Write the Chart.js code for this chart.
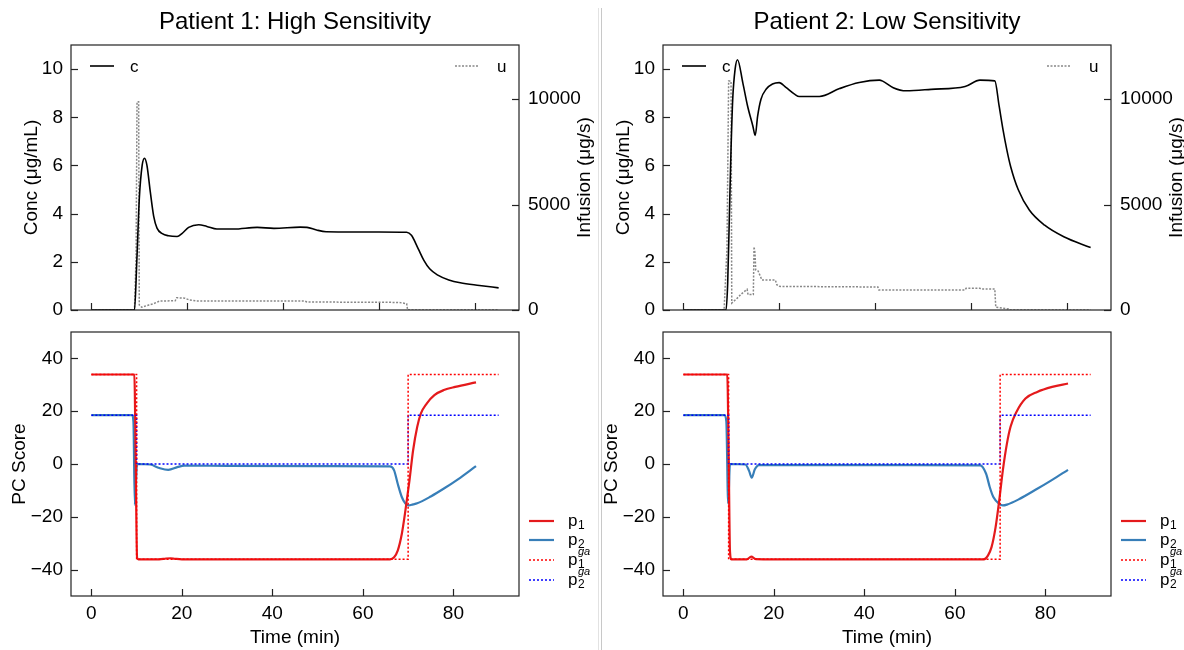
<!DOCTYPE html>
<html>
<head>
<meta charset="utf-8">
<script src="https://cdn.jsdelivr.net/npm/chart.js@4.4.1/dist/chart.umd.min.js"></script>
<style>
  html, body { margin: 0; padding: 0; background: #fff; }
  #wrap { position: relative; width: 1184px; height: 650px; overflow: hidden; }
  canvas { position: absolute; }
  .sep { position: absolute; top: 8px; width: 1px; height: 642px; }
</style>
</head>
<body>
<div id="wrap">
  <canvas id="tl" width="596" height="335" style="left:0;top:0"></canvas>
  <canvas id="tr" width="588" height="335" style="left:596px;top:0"></canvas>
  <canvas id="bl" width="596" height="350" style="left:0;top:300px"></canvas>
  <canvas id="br" width="588" height="350" style="left:596px;top:300px"></canvas>
  <div class="sep" style="left:598px;background:#e2e2e2"></div>
  <div class="sep" style="left:601px;background:#c8c8c8"></div>
</div>
<script>
const FONT = '"Liberation Sans", Arial, Helvetica, sans-serif';
Chart.defaults.font.family = FONT;
Chart.defaults.font.size = 19;
Chart.defaults.color = '#000';

// ---- tick labels
const timeTicks = [0, 20, 40, 60, 80];
const concTicks = [0, 2, 4, 6, 8, 10];
const infTicks = [0, 5000, 10000];
const pcTicks = [-40, -20, 0, 20, 40];

// ---- Patient 1: concentration c (ug/mL) and infusion u (ug/s)
const p1cT = [0, 9.0, 9.5, 10.0, 10.6, 11.1, 11.6, 12.3, 13.0, 13.7, 14.8, 16.1, 17.9, 18.9, 20.3, 22.4, 24.1, 26.2, 29.7, 34.6, 38.1, 43.6, 45.0, 47.0, 49.0, 55.0, 60.0, 65.8, 66.8, 68.2, 69.4, 70.6, 72.2, 74.6, 77.0, 81.0, 85.0];
const p1c  = [0, 0, 2.1, 4.6, 6.0, 6.3, 6.0, 4.9, 3.9, 3.4, 3.17, 3.08, 3.05, 3.17, 3.43, 3.54, 3.47, 3.36, 3.36, 3.43, 3.39, 3.44, 3.43, 3.32, 3.25, 3.24, 3.24, 3.23, 3.1, 2.55, 2.06, 1.71, 1.46, 1.25, 1.13, 1.02, 0.92];
const p1uT = [0, 9.0, 9.33, 9.53, 9.87, 10.0, 10.5, 12.0, 13.0, 14.2, 17.5, 17.8, 19.5, 20.5, 22.0, 44.5, 45.0, 64.0, 65.0, 65.8, 66.0, 85.0];
const p1u  = [0, 0, 2530, 9870, 9870, 240, 130, 240, 300, 420, 440, 580, 560, 470, 430, 430, 380, 360, 330, 300, 0, 0];

// ---- Patient 2: concentration c and infusion u
const p2cT = [0, 8.9, 9.25, 9.6, 9.95, 10.3, 10.8, 11.3, 12.4, 13.4, 14.5, 15.0, 15.5, 16.2, 17.3, 18.6, 20.0, 21.4, 23.2, 24.2, 28.4, 32.6, 36.7, 40.9, 41.6, 43.8, 46.5, 51.7, 58.8, 61.9, 65.0, 65.9, 66.7, 67.5, 68.3, 69.9, 72.2, 75.4, 79.4, 85.0];
const p2c  = [0, 0, 1.11, 3.89, 6.67, 8.75, 10.0, 10.39, 9.44, 8.47, 7.64, 7.25, 8.05, 8.75, 9.17, 9.38, 9.44, 9.24, 8.96, 8.86, 8.86, 9.19, 9.44, 9.54, 9.5, 9.23, 9.1, 9.16, 9.28, 9.54, 9.51, 8.47, 7.5, 6.66, 5.96, 4.99, 4.15, 3.52, 3.04, 2.59];
const p2uT = [0, 8.5, 9.1, 9.45, 9.95, 10.1, 10.5, 11.2, 12.1, 13.3, 13.5, 14.6, 14.75, 14.95, 15.1, 15.6, 16.4, 19.2, 19.5, 20.0, 40.6, 40.8, 58.8, 59.0, 61.9, 62.1, 65.0, 65.2, 67.8, 68.0, 85.0];
const p2u  = [0, 0, 2900, 10850, 10850, 330, 410, 550, 760, 980, 730, 730, 3000, 2700, 1900, 1850, 1420, 1420, 1200, 1120, 1090, 950, 950, 1030, 1030, 995, 995, 130, 50, 0, 0];

// ---- PC scores, patient 1
const s1p1T = [0, 9.5, 9.8, 10.1, 10.4, 15.0, 16.5, 17.5, 18.5, 20.0, 66.0, 66.9, 67.7, 68.6, 69.4, 70.3, 71.1, 72.0, 72.8, 74.1, 75.8, 77.9, 80.4, 85.0];
const s1p1  = [33.9, 33.9, 0, -35.5, -36.1, -36.1, -35.8, -35.7, -35.9, -36.1, -36.1, -35.3, -32.8, -26.5, -17.6, -6.2, 5.2, 14.0, 19.1, 22.9, 26.1, 28.0, 29.2, 30.9];
const s1p2T = [0, 9.0, 9.3, 9.6, 10.1, 13.0, 15.0, 17.0, 19.0, 20.5, 30.0, 50.0, 66.0, 66.9, 67.7, 68.6, 69.4, 70.1, 71.1, 72.0, 75.0, 78.0, 81.0, 85.0];
const s1p2  = [18.5, 18.5, 16.0, -15.5, 0, -0.2, -1.5, -2.2, -1.2, -0.6, -0.7, -0.8, -0.9, -2.4, -7.5, -12.5, -15.0, -15.7, -15.3, -14.9, -12.3, -9.2, -5.8, -0.8];

// ---- PC scores, patient 2
const s2p1T = [0, 9.7, 10.0, 10.3, 10.6, 14.0, 15.0, 16.0, 20.0, 66.4, 67.3, 68.1, 69.0, 69.8, 70.6, 71.5, 72.3, 73.6, 75.6, 78.2, 81.5, 85.0];
const s2p1  = [33.9, 33.9, 5.0, -33.0, -36.1, -36.1, -35.1, -36.0, -36.1, -36.1, -34.7, -31.5, -23.9, -13.8, -2.4, 7.7, 14.1, 19.7, 24.8, 27.3, 29.2, 30.5];
const s2p2T = [0, 9.1, 9.5, 9.9, 10.3, 13.7, 14.5, 15.1, 15.8, 16.7, 30.0, 50.0, 65.6, 66.9, 67.7, 68.5, 69.8, 70.6, 71.5, 74.0, 78.2, 81.5, 85.0];
const s2p2  = [18.5, 18.5, 16.0, -15.0, 0, -0.2, -2.5, -5.2, -2.0, -0.4, -0.4, -0.4, -0.5, -3.7, -8.7, -12.5, -15.1, -15.7, -15.4, -13.5, -9.4, -6.0, -2.2];

// ---- target (ga) scores, same for both patients
const gaT   = [0, 10, 10, 70, 70, 90];
const gaP1  = [33.9, 33.9, -36.1, -36.1, 33.9, 33.9];
const gaP2  = [18.5, 18.5, 0, 0, 18.5, 18.5];

function pts(t, v) { return t.map((x, i) => ({ x: x, y: v[i] })); }
const fmt = v => String(v).replace('-', '\u2212');
function fixTicks(list) { return s => { s.ticks = list.map(v => ({ value: v })); }; }

function label(ctx, x, y, lab) {
  ctx.font = '17px ' + FONT;
  ctx.textAlign = 'left';
  ctx.textBaseline = 'middle';
  ctx.fillStyle = '#000';
  ctx.fillText(lab.text, x, y);
  const w = ctx.measureText(lab.text).width;
  if (lab.sub) { ctx.font = '12px ' + FONT; ctx.fillText(lab.sub, x + w + 0.5, y + 5); }
  if (lab.sup) { ctx.font = 'italic 11px ' + FONT; ctx.fillText(lab.sup, x + w + 0.5, y - 8); }
}
function sample(ctx, x0, x1, y, e) {
  ctx.save();
  ctx.strokeStyle = e.color;
  ctx.lineWidth = e.width;
  ctx.setLineDash(e.dash || []);
  ctx.beginPath(); ctx.moveTo(x0, y); ctx.lineTo(x1, y); ctx.stroke();
  ctx.restore();
}
function vtext(ctx, txt, x, y) {
  ctx.save();
  ctx.translate(x, y); ctx.rotate(-Math.PI / 2);
  ctx.textAlign = 'center'; ctx.textBaseline = 'middle';
  ctx.fillText(txt, 0, 0);
  ctx.restore();
}

const deco = {
  id: 'deco',
  afterDraw(chart, args, o) {
    const ctx = chart.ctx, a = chart.chartArea;
    const midY = (a.top + a.bottom) / 2, midX = (a.left + a.right) / 2;
    ctx.save();
    ctx.strokeStyle = '#222';
    ctx.lineWidth = 1.2;
    // inward tick marks
    Object.values(chart.scales).forEach(s => {
      s.ticks.forEach(t => {
        const p = Math.round(s.getPixelForValue(t.value)) + 0.5;
        ctx.beginPath();
        if (s.axis === 'x') { ctx.moveTo(p, a.bottom); ctx.lineTo(p, a.bottom - 7); }
        else if (s.position === 'left') { ctx.moveTo(a.left, p); ctx.lineTo(a.left + 7, p); }
        else { ctx.moveTo(a.right, p); ctx.lineTo(a.right - 7, p); }
        ctx.stroke();
      });
    });
    ctx.strokeRect(a.left, a.top, a.right - a.left, a.bottom - a.top);

    ctx.fillStyle = '#000';
    ctx.font = '19px ' + FONT;
    if (o.yTitle) vtext(ctx, o.yTitle, a.left - o.yTitleOff, midY);
    if (o.y2Title) vtext(ctx, o.y2Title, a.right + 66, midY);
    if (o.xTitle) {
      ctx.textAlign = 'center'; ctx.textBaseline = 'middle';
      ctx.fillText(o.xTitle, midX, a.bottom + 42);
    }
    if (o.title) {
      ctx.font = '24px ' + FONT;
      ctx.textAlign = 'center'; ctx.textBaseline = 'middle';
      ctx.fillText(o.title, midX, 22);
    }
    if (o.topLegend) {
      const y = a.top + 21;
      sample(ctx, a.left + 19, a.left + 43, y, { color: '#000', width: 1.6 });
      label(ctx, a.left + 59, y + 1, { text: 'c' });
      sample(ctx, a.right - 64, a.right - 40, y, { color: '#888', width: 1.5, dash: [2, 1.5] });
      label(ctx, a.right - 22, y + 1, { text: 'u' });
    }
    if (o.pcLegend) {
      const rows = [
        { y: 189, e: { color: '#e41a1c', width: 2.2 }, l: { text: 'p', sub: '1' } },
        { y: 208, e: { color: '#377eb8', width: 2.2 }, l: { text: 'p', sub: '2' } },
        { y: 228, e: { color: '#ff0000', width: 1.5, dash: [2, 2] }, l: { text: 'p', sub: '1', sup: 'ga' } },
        { y: 248, e: { color: '#0000ff', width: 1.5, dash: [2, 2] }, l: { text: 'p', sub: '2', sup: 'ga' } }
      ];
      rows.forEach(r => {
        sample(ctx, a.right + 10, a.right + 35, a.top + r.y, r.e);
        label(ctx, a.right + 49, a.top + r.y, r.l);
      });
    }
    ctx.restore();
  }
};

function panel(id, o) {
  const cv = document.getElementById(id);
  const W = cv.width, H = cv.height;
  const noGrid = { display: false, drawTicks: false };
  const scales = {
    x: {
      type: 'linear', min: o.xMin, max: o.xMax,
      afterBuildTicks: fixTicks(timeTicks),
      grid: noGrid, border: { display: false },
      ticks: { display: o.xLabels, padding: 6, maxRotation: 0, callback: fmt },
      afterFit: s => { s.height = H - o.area.bottom; }
    },
    y: {
      position: 'left', min: o.yMin, max: o.yMax,
      afterBuildTicks: fixTicks(o.yTicks),
      grid: noGrid, border: { display: false },
      ticks: { padding: 8, callback: fmt },
      afterFit: s => { s.width = o.area.left; }
    }
  };
  if (o.y2) {
    scales.y2 = {
      position: 'right', min: 0, max: 12560,
      afterBuildTicks: fixTicks(infTicks),
      grid: noGrid, border: { display: false },
      ticks: { padding: 9, callback: fmt },
      afterFit: s => { s.width = W - o.area.right; }
    };
  }
  new Chart(cv, {
    type: 'line',
    data: { datasets: o.datasets },
    options: {
      responsive: false,
      animation: false,
      events: [],
      layout: { padding: { top: o.area.top, right: o.y2 ? 0 : W - o.area.right, left: 0, bottom: 0 } },
      elements: { point: { radius: 0 } },
      plugins: { legend: { display: false }, tooltip: { enabled: false }, deco: o.deco },
      scales: scales
    },
    plugins: [deco]
  });
}

function topSets(cT, c, uT, u) {
  return [
    { data: pts(cT, c), yAxisID: 'y', borderColor: '#000', borderWidth: 1.6, cubicInterpolationMode: 'monotone', order: 0 },
    { data: pts(uT, u), yAxisID: 'y2', borderColor: '#888', borderWidth: 1.5, borderDash: [2, 1.5], tension: 0, order: 1 }
  ];
}
function pcSets(aT, a, bT, b) {
  return [
    { data: pts(gaT, gaP1), borderColor: '#ff0000', borderWidth: 1.5, borderDash: [2, 2], tension: 0, order: 0 },
    { data: pts(gaT, gaP2), borderColor: '#0000ff', borderWidth: 1.5, borderDash: [2, 2], tension: 0, order: 0 },
    { data: pts(aT, a), borderColor: '#e41a1c', borderWidth: 2.2, cubicInterpolationMode: 'monotone', order: 1 },
    { data: pts(bT, b), borderColor: '#377eb8', borderWidth: 2.2, cubicInterpolationMode: 'monotone', order: 1 }
  ];
}

const topArea = { top: 45, bottom: 310 };
const botArea = { top: 32, bottom: 296 };

panel('tl', {
  area: Object.assign({ left: 71, right: 519 }, topArea),
  xMin: -4.25, xMax: 89.25, xLabels: false, yMin: 0, yMax: 11, yTicks: concTicks, y2: true,
  datasets: topSets(p1cT, p1c, p1uT, p1u),
  deco: { title: 'Patient 1: High Sensitivity', yTitle: 'Conc (\u03bcg/mL)', yTitleOff: 39, y2Title: 'Infusion (\u03bcg/s)', topLegend: true }
});
panel('tr', {
  area: Object.assign({ left: 67, right: 515 }, topArea),
  xMin: -4.25, xMax: 89.25, xLabels: false, yMin: 0, yMax: 11, yTicks: concTicks, y2: true,
  datasets: topSets(p2cT, p2c, p2uT, p2u),
  deco: { title: 'Patient 2: Low Sensitivity', yTitle: 'Conc (\u03bcg/mL)', yTitleOff: 39, y2Title: 'Infusion (\u03bcg/s)', topLegend: true }
});
panel('bl', {
  area: Object.assign({ left: 71, right: 519 }, botArea),
  xMin: -4.5, xMax: 94.5, xLabels: true, yMin: -50, yMax: 50, yTicks: pcTicks, y2: false,
  datasets: pcSets(s1p1T, s1p1, s1p2T, s1p2),
  deco: { yTitle: 'PC Score', yTitleOff: 51, xTitle: 'Time (min)', pcLegend: true }
});
panel('br', {
  area: Object.assign({ left: 67, right: 515 }, botArea),
  xMin: -4.5, xMax: 94.5, xLabels: true, yMin: -50, yMax: 50, yTicks: pcTicks, y2: false,
  datasets: pcSets(s2p1T, s2p1, s2p2T, s2p2),
  deco: { yTitle: 'PC Score', yTitleOff: 51, xTitle: 'Time (min)', pcLegend: true }
});
</script>
</body>
</html>
